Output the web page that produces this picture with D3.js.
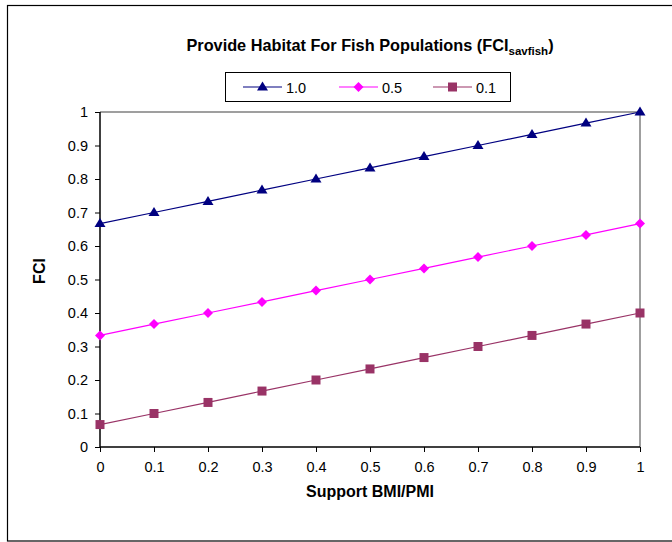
<!DOCTYPE html>
<html><head><meta charset="utf-8">
<script src="https://cdn.jsdelivr.net/npm/d3@7"></script>
<style>body{margin:0;background:#fff}svg{display:block}text{font-family:"Liberation Sans",Arial,sans-serif}</style>
</head><body>
<script>
const xValues = [0,0.1,0.2,0.3,0.4,0.5,0.6,0.7,0.8,0.9,1];
const series10 = [0.667,0.7,0.733,0.767,0.8,0.833,0.867,0.9,0.933,0.967,1.0];
const series05 = [0.333,0.367,0.4,0.433,0.467,0.5,0.533,0.567,0.6,0.633,0.667];
const series01 = [0.067,0.1,0.133,0.167,0.2,0.233,0.267,0.3,0.333,0.367,0.4];
const seriesNames = ["1.0","0.5","0.1"];
const xTicks = [0,0.1,0.2,0.3,0.4,0.5,0.6,0.7,0.8,0.9,1];
const yTicks = [0,0.1,0.2,0.3,0.4,0.5,0.6,0.7,0.8,0.9,1];

const W=672,H=542;
const svg=d3.select("body").append("svg").attr("width",W).attr("height",H);
svg.append("rect").attr("x",7.5).attr("y",5.5).attr("width",700).attr("height",535.5)
  .attr("fill","none").attr("stroke","#000").attr("stroke-width",1.2);

const x=d3.scaleLinear().domain([0,1]).range([100,640]);
const y=d3.scaleLinear().domain([0,1]).range([447,112]);

svg.append("path").attr("d",`M${x(0)},${y(1)}H${x(1)}V${y(0)}`).attr("fill","none").attr("stroke","#808080").attr("stroke-width",1.5);

const xAxis=svg.append("g").attr("transform",`translate(0,${y(0)})`)
  .call(d3.axisBottom(x).tickValues(xTicks).tickFormat(d3.format("")).tickSize(5).tickPadding(10));
const yAxis=svg.append("g").attr("transform",`translate(${x(0)},0)`)
  .call(d3.axisLeft(y).tickValues(yTicks).tickFormat(d3.format("")).tickSize(5).tickPadding(7));
[xAxis,yAxis].forEach(g=>{
  g.select(".domain").attr("stroke","#000").attr("stroke-width",1.5);
  g.selectAll(".tick line").attr("stroke","#000");
  g.selectAll("text").attr("font-size",14.5).attr("fill","#000").style("font-family","Liberation Sans, Arial, sans-serif");
});
yAxis.select(".domain").attr("d",`M0,${y(0)}V${y(1)}`);
xAxis.select(".domain").attr("d",`M${x(0)},0H${x(1)}`);

const colors=["#000080","#FF00FF","#993366"];
const allSeries=[series10,series05,series01];
const markerPaths=[
  "M0,-5.5L5.5,3.5L-5.5,3.5Z",
  "M0,-5L5,0L0,5L-5,0Z",
  "M-4.5,-4.5H4.5V4.5H-4.5Z"
];
const line=d3.line().x((d,i)=>x(xValues[i])).y(d=>y(d));

allSeries.forEach((s,k)=>{
  svg.append("path").datum(s).attr("d",line).attr("fill","none").attr("stroke",colors[k]).attr("stroke-width",1.2);
});
allSeries.forEach((s,k)=>{
  svg.append("g").selectAll("path").data(s).join("path")
    .attr("transform",(d,i)=>`translate(${x(xValues[i])},${y(d)})`)
    .attr("d",markerPaths[k])
    .attr("fill",colors[k]);
});

const t=svg.append("text").attr("x",370).attr("y",51).attr("text-anchor","middle")
  .attr("font-size",16.3).attr("font-weight","bold").attr("fill","#000");
t.append("tspan").text("Provide Habitat For Fish Populations (FCI");
t.append("tspan").attr("font-size",11.5).attr("dy",4).text("savfish");
t.append("tspan").attr("dy",-4).text(")");

svg.append("rect").attr("x",225.5).attr("y",72.5).attr("width",285).attr("height",29)
  .attr("fill","#fff").attr("stroke","#000").attr("stroke-width",1);
const lx=[243,339,433];
seriesNames.forEach((n,k)=>{
  const g=svg.append("g");
  g.append("line").attr("x1",lx[k]).attr("x2",lx[k]+39).attr("y1",87).attr("y2",87).attr("stroke",colors[k]).attr("stroke-width",1.2);
  g.append("path").attr("transform",`translate(${lx[k]+19.5},87)`)
    .attr("d",markerPaths[k]).attr("fill",colors[k]);
  g.append("text").attr("x",lx[k]+43).attr("y",92.5).attr("font-size",14.5).attr("fill","#000").text(n);
});

svg.append("text").attr("x",370).attr("y",497).attr("text-anchor","middle").attr("font-size",16)
  .attr("font-weight","bold").attr("fill","#000").text("Support BMI/PMI");
svg.append("text").attr("transform","translate(45,271) rotate(-90)").attr("text-anchor","middle").attr("font-size",16)
  .attr("font-weight","bold").attr("fill","#000").text("FCI");
</script>
</body></html>
